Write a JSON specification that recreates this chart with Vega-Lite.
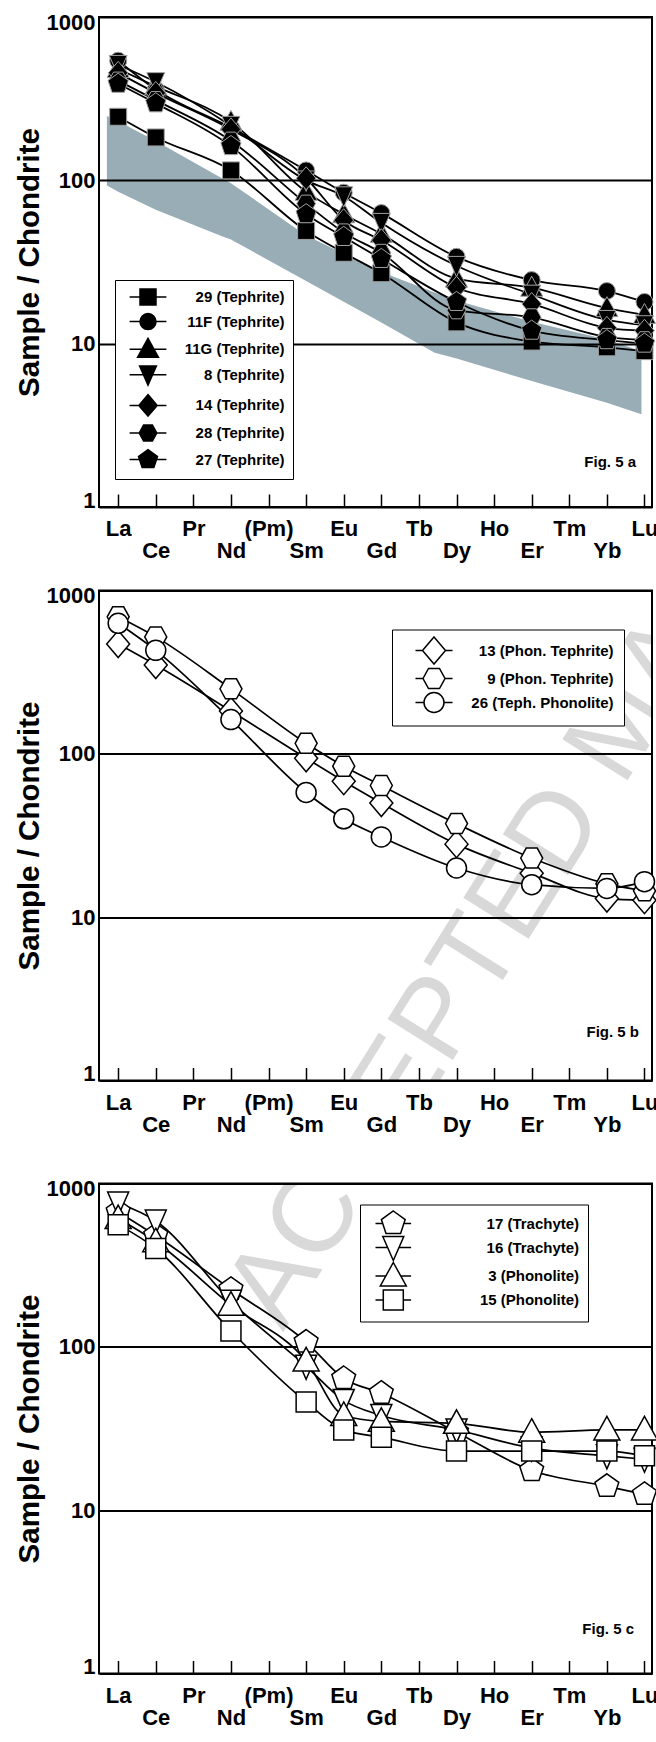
{
  "$schema": "https://vega.github.io/schema/vega-lite/v6.json",
  "background": "white",
  "padding": {"left": 13, "top": 10, "right": 0, "bottom": 0},
  "config": {
    "font": "Liberation Sans",
    "view": {"stroke": "black", "strokeWidth": 2},
    "axis": {"labelFont": "Liberation Sans", "labelFontWeight": "bold", "labelColor": "black", "titleFont": "Liberation Sans", "titleFontWeight": "bold", "titleColor": "black"},
    "legend": {"labelFont": "Liberation Sans", "labelFontWeight": "bold", "labelColor": "black", "labelFontSize": 15, "labelLimit": 400},
    "title": {"font": "Liberation Sans", "fontSize": 15, "fontWeight": "bold", "color": "black", "orient": "bottom", "anchor": "end", "frame": "group"}
  },
  "datasets": {
    "band": [
      {"idx": -0.3, "lo": 93, "v": 248}, {"idx": 0, "lo": 85, "v": 230}, {"idx": 1, "lo": 66, "v": 174},
      {"idx": 2.76, "lo": 45.5, "v": 103}, {"idx": 3, "lo": 43.4, "v": 96}, {"idx": 5, "lo": 24.2, "v": 46},
      {"idx": 7, "lo": 13.5, "v": 27.5}, {"idx": 8.42, "lo": 8.8, "v": 20.6}, {"idx": 9, "lo": 8.1, "v": 18.4},
      {"idx": 11, "lo": 5.9, "v": 13.6}, {"idx": 13, "lo": 4.35, "v": 10.6}, {"idx": 13.92, "lo": 3.7, "v": 9}
    ],
    "a": [
      {"s": "29 (Tephrite)", "el": "La", "idx": 0, "v": 245}, {"s": "29 (Tephrite)", "el": "Ce", "idx": 1, "v": 183}, {"s": "29 (Tephrite)", "el": "Nd", "idx": 3, "v": 115}, {"s": "29 (Tephrite)", "el": "Sm", "idx": 5, "v": 49}, {"s": "29 (Tephrite)", "el": "Eu", "idx": 6, "v": 36}, {"s": "29 (Tephrite)", "el": "Gd", "idx": 7, "v": 27}, {"s": "29 (Tephrite)", "el": "Dy", "idx": 9, "v": 13.5}, {"s": "29 (Tephrite)", "el": "Er", "idx": 11, "v": 10.3}, {"s": "29 (Tephrite)", "el": "Yb", "idx": 13, "v": 9.5}, {"s": "29 (Tephrite)", "el": "Lu", "idx": 14, "v": 9},
      {"s": "11F (Tephrite)", "el": "La", "idx": 0, "v": 540}, {"s": "11F (Tephrite)", "el": "Ce", "idx": 1, "v": 360}, {"s": "11F (Tephrite)", "el": "Nd", "idx": 3, "v": 210}, {"s": "11F (Tephrite)", "el": "Sm", "idx": 5, "v": 115}, {"s": "11F (Tephrite)", "el": "Eu", "idx": 6, "v": 84}, {"s": "11F (Tephrite)", "el": "Gd", "idx": 7, "v": 63}, {"s": "11F (Tephrite)", "el": "Dy", "idx": 9, "v": 34}, {"s": "11F (Tephrite)", "el": "Er", "idx": 11, "v": 24.5}, {"s": "11F (Tephrite)", "el": "Yb", "idx": 13, "v": 21}, {"s": "11F (Tephrite)", "el": "Lu", "idx": 14, "v": 18},
      {"s": "11G (Tephrite)", "el": "La", "idx": 0, "v": 480}, {"s": "11G (Tephrite)", "el": "Ce", "idx": 1, "v": 376}, {"s": "11G (Tephrite)", "el": "Nd", "idx": 3, "v": 228}, {"s": "11G (Tephrite)", "el": "Sm", "idx": 5, "v": 85}, {"s": "11G (Tephrite)", "el": "Eu", "idx": 6, "v": 62}, {"s": "11G (Tephrite)", "el": "Gd", "idx": 7, "v": 47}, {"s": "11G (Tephrite)", "el": "Dy", "idx": 9, "v": 25}, {"s": "11G (Tephrite)", "el": "Er", "idx": 11, "v": 22}, {"s": "11G (Tephrite)", "el": "Yb", "idx": 13, "v": 16.5}, {"s": "11G (Tephrite)", "el": "Lu", "idx": 14, "v": 15},
      {"s": "8 (Tephrite)", "el": "La", "idx": 0, "v": 510}, {"s": "8 (Tephrite)", "el": "Ce", "idx": 1, "v": 400}, {"s": "8 (Tephrite)", "el": "Nd", "idx": 3, "v": 216}, {"s": "8 (Tephrite)", "el": "Sm", "idx": 5, "v": 100}, {"s": "8 (Tephrite)", "el": "Eu", "idx": 6, "v": 80}, {"s": "8 (Tephrite)", "el": "Gd", "idx": 7, "v": 55}, {"s": "8 (Tephrite)", "el": "Dy", "idx": 9, "v": 30}, {"s": "8 (Tephrite)", "el": "Er", "idx": 11, "v": 20}, {"s": "8 (Tephrite)", "el": "Yb", "idx": 13, "v": 14}, {"s": "8 (Tephrite)", "el": "Lu", "idx": 14, "v": 13},
      {"s": "14 (Tephrite)", "el": "La", "idx": 0, "v": 455}, {"s": "14 (Tephrite)", "el": "Ce", "idx": 1, "v": 343}, {"s": "14 (Tephrite)", "el": "Nd", "idx": 3, "v": 205}, {"s": "14 (Tephrite)", "el": "Sm", "idx": 5, "v": 103}, {"s": "14 (Tephrite)", "el": "Eu", "idx": 6, "v": 57}, {"s": "14 (Tephrite)", "el": "Gd", "idx": 7, "v": 43}, {"s": "14 (Tephrite)", "el": "Dy", "idx": 9, "v": 22}, {"s": "14 (Tephrite)", "el": "Er", "idx": 11, "v": 17.5}, {"s": "14 (Tephrite)", "el": "Yb", "idx": 13, "v": 12.5}, {"s": "14 (Tephrite)", "el": "Lu", "idx": 14, "v": 12},
      {"s": "28 (Tephrite)", "el": "La", "idx": 0, "v": 408}, {"s": "28 (Tephrite)", "el": "Ce", "idx": 1, "v": 310}, {"s": "28 (Tephrite)", "el": "Nd", "idx": 3, "v": 175}, {"s": "28 (Tephrite)", "el": "Sm", "idx": 5, "v": 72}, {"s": "28 (Tephrite)", "el": "Eu", "idx": 6, "v": 48}, {"s": "28 (Tephrite)", "el": "Gd", "idx": 7, "v": 36}, {"s": "28 (Tephrite)", "el": "Dy", "idx": 9, "v": 16}, {"s": "28 (Tephrite)", "el": "Er", "idx": 11, "v": 14.5}, {"s": "28 (Tephrite)", "el": "Yb", "idx": 13, "v": 11}, {"s": "28 (Tephrite)", "el": "Lu", "idx": 14, "v": 10.5},
      {"s": "27 (Tephrite)", "el": "La", "idx": 0, "v": 390}, {"s": "27 (Tephrite)", "el": "Ce", "idx": 1, "v": 296}, {"s": "27 (Tephrite)", "el": "Nd", "idx": 3, "v": 162}, {"s": "27 (Tephrite)", "el": "Sm", "idx": 5, "v": 62}, {"s": "27 (Tephrite)", "el": "Eu", "idx": 6, "v": 45}, {"s": "27 (Tephrite)", "el": "Gd", "idx": 7, "v": 33}, {"s": "27 (Tephrite)", "el": "Dy", "idx": 9, "v": 18}, {"s": "27 (Tephrite)", "el": "Er", "idx": 11, "v": 12}, {"s": "27 (Tephrite)", "el": "Yb", "idx": 13, "v": 10.5}, {"s": "27 (Tephrite)", "el": "Lu", "idx": 14, "v": 10}
    ],
    "b": [
      {"s": "13 (Phon. Tephrite)", "el": "La", "idx": 0, "v": 470}, {"s": "13 (Phon. Tephrite)", "el": "Ce", "idx": 1, "v": 350}, {"s": "13 (Phon. Tephrite)", "el": "Nd", "idx": 3, "v": 183}, {"s": "13 (Phon. Tephrite)", "el": "Sm", "idx": 5, "v": 94}, {"s": "13 (Phon. Tephrite)", "el": "Eu", "idx": 6, "v": 68}, {"s": "13 (Phon. Tephrite)", "el": "Gd", "idx": 7, "v": 50}, {"s": "13 (Phon. Tephrite)", "el": "Dy", "idx": 9, "v": 28}, {"s": "13 (Phon. Tephrite)", "el": "Er", "idx": 11, "v": 18.6}, {"s": "13 (Phon. Tephrite)", "el": "Yb", "idx": 13, "v": 13}, {"s": "13 (Phon. Tephrite)", "el": "Lu", "idx": 14, "v": 12.7},
      {"s": "9 (Phon. Tephrite)", "el": "La", "idx": 0, "v": 690}, {"s": "9 (Phon. Tephrite)", "el": "Ce", "idx": 1, "v": 520}, {"s": "9 (Phon. Tephrite)", "el": "Nd", "idx": 3, "v": 250}, {"s": "9 (Phon. Tephrite)", "el": "Sm", "idx": 5, "v": 116}, {"s": "9 (Phon. Tephrite)", "el": "Eu", "idx": 6, "v": 84}, {"s": "9 (Phon. Tephrite)", "el": "Gd", "idx": 7, "v": 64}, {"s": "9 (Phon. Tephrite)", "el": "Dy", "idx": 9, "v": 37.4}, {"s": "9 (Phon. Tephrite)", "el": "Er", "idx": 11, "v": 23}, {"s": "9 (Phon. Tephrite)", "el": "Yb", "idx": 13, "v": 16}, {"s": "9 (Phon. Tephrite)", "el": "Lu", "idx": 14, "v": 14.5},
      {"s": "26 (Teph. Phonolite)", "el": "La", "idx": 0, "v": 630}, {"s": "26 (Teph. Phonolite)", "el": "Ce", "idx": 1, "v": 430}, {"s": "26 (Teph. Phonolite)", "el": "Nd", "idx": 3, "v": 162}, {"s": "26 (Teph. Phonolite)", "el": "Sm", "idx": 5, "v": 58}, {"s": "26 (Teph. Phonolite)", "el": "Eu", "idx": 6, "v": 40}, {"s": "26 (Teph. Phonolite)", "el": "Gd", "idx": 7, "v": 31}, {"s": "26 (Teph. Phonolite)", "el": "Dy", "idx": 9, "v": 20}, {"s": "26 (Teph. Phonolite)", "el": "Er", "idx": 11, "v": 15.8}, {"s": "26 (Teph. Phonolite)", "el": "Yb", "idx": 13, "v": 15}, {"s": "26 (Teph. Phonolite)", "el": "Lu", "idx": 14, "v": 16.5}
    ],
    "c": [
      {"s": "17 (Trachyte)", "el": "La", "idx": 0, "v": 670}, {"s": "17 (Trachyte)", "el": "Ce", "idx": 1, "v": 480}, {"s": "17 (Trachyte)", "el": "Nd", "idx": 3, "v": 225}, {"s": "17 (Trachyte)", "el": "Sm", "idx": 5, "v": 107}, {"s": "17 (Trachyte)", "el": "Eu", "idx": 6, "v": 64}, {"s": "17 (Trachyte)", "el": "Gd", "idx": 7, "v": 52}, {"s": "17 (Trachyte)", "el": "Dy", "idx": 9, "v": 30}, {"s": "17 (Trachyte)", "el": "Er", "idx": 11, "v": 17.5}, {"s": "17 (Trachyte)", "el": "Yb", "idx": 13, "v": 14}, {"s": "17 (Trachyte)", "el": "Lu", "idx": 14, "v": 12.5},
      {"s": "16 (Trachyte)", "el": "La", "idx": 0, "v": 760}, {"s": "16 (Trachyte)", "el": "Ce", "idx": 1, "v": 590}, {"s": "16 (Trachyte)", "el": "Nd", "idx": 3, "v": 190}, {"s": "16 (Trachyte)", "el": "Sm", "idx": 5, "v": 76}, {"s": "16 (Trachyte)", "el": "Eu", "idx": 6, "v": 47}, {"s": "16 (Trachyte)", "el": "Gd", "idx": 7, "v": 38}, {"s": "16 (Trachyte)", "el": "Dy", "idx": 9, "v": 31}, {"s": "16 (Trachyte)", "el": "Er", "idx": 11, "v": 24}, {"s": "16 (Trachyte)", "el": "Yb", "idx": 13, "v": 21.5}, {"s": "16 (Trachyte)", "el": "Lu", "idx": 14, "v": 20.5},
      {"s": "3 (Phonolite)", "el": "La", "idx": 0, "v": 610}, {"s": "3 (Phonolite)", "el": "Ce", "idx": 1, "v": 440}, {"s": "3 (Phonolite)", "el": "Nd", "idx": 3, "v": 180}, {"s": "3 (Phonolite)", "el": "Sm", "idx": 5, "v": 82}, {"s": "3 (Phonolite)", "el": "Eu", "idx": 6, "v": 38}, {"s": "3 (Phonolite)", "el": "Gd", "idx": 7, "v": 35}, {"s": "3 (Phonolite)", "el": "Dy", "idx": 9, "v": 34}, {"s": "3 (Phonolite)", "el": "Er", "idx": 11, "v": 30}, {"s": "3 (Phonolite)", "el": "Yb", "idx": 13, "v": 31}, {"s": "3 (Phonolite)", "el": "Lu", "idx": 14, "v": 31},
      {"s": "15 (Phonolite)", "el": "La", "idx": 0, "v": 560}, {"s": "15 (Phonolite)", "el": "Ce", "idx": 1, "v": 400}, {"s": "15 (Phonolite)", "el": "Nd", "idx": 3, "v": 125}, {"s": "15 (Phonolite)", "el": "Sm", "idx": 5, "v": 46}, {"s": "15 (Phonolite)", "el": "Eu", "idx": 6, "v": 31}, {"s": "15 (Phonolite)", "el": "Gd", "idx": 7, "v": 28}, {"s": "15 (Phonolite)", "el": "Dy", "idx": 9, "v": 23}, {"s": "15 (Phonolite)", "el": "Er", "idx": 11, "v": 23}, {"s": "15 (Phonolite)", "el": "Yb", "idx": 13, "v": 23}, {"s": "15 (Phonolite)", "el": "Lu", "idx": 14, "v": 21.5}
    ]
  },
  "resolve": {"scale": {"shape": "independent", "x": "independent", "y": "independent"}, "legend": {"shape": "independent"}},
  "spacing": 40.5,
  "vconcat": [
    {
      "resolve": {"scale": {"shape": "independent", "x": "independent", "y": "independent"}, "legend": {"shape": "independent"}},
      "spacing": 20.5,
      "vconcat": [
        {
          "width": 553, "height": 490,
          "title": {"text": "Fig. 5 a", "offset": -107, "dx": -16},
          "resolve": {"scale": {"shape": "independent"}, "legend": {"shape": "independent"}},
          "encoding": {
            "x": {"field": "idx", "type": "quantitative", "scale": {"domain": [-0.51, 14.2], "nice": false, "zero": false}, "axis": {"values": [0,1,2,3,4,5,6,7,8,9,10,11,12,13,14], "title": null, "grid": false, "domain": false, "ticks": true, "tickSize": -13, "tickWidth": 1.5, "tickColor": "black", "labelFontSize": 22, "labelPadding": 24.5, "labelBaseline": "top", "labelLineHeight": 22, "labelFlush": false, "labelOverlap": false, "labelBound": false, "labelExpr": "(datum.value % 2 === 0) ? [['La','Ce','Pr','Nd','(Pm)','Sm','Eu','Gd','Tb','Dy','Ho','Er','Tm','Yb','Lu'][datum.value]] : [' ', ['La','Ce','Pr','Nd','(Pm)','Sm','Eu','Gd','Tb','Dy','Ho','Er','Tm','Yb','Lu'][datum.value]]"}},
            "y": {"field": "v", "type": "quantitative", "scale": {"type": "log", "domain": [1, 1000], "nice": false}, "axis": {"values": [1, 10, 100, 1000], "format": "d", "title": "Sample / Chondrite", "ticks": false, "grid": true, "gridColor": "black", "gridWidth": 2, "gridOpacity": 1, "zindex": 1, "domain": false, "labelFontSize": 22, "labelPadding": 4, "labelFlush": true, "labelFlushOffset": 5, "titleFontSize": 29.5, "titlePadding": 2}}
          },
          "layer": [
            {"data": {"name": "band"}, "mark": {"type": "area", "color": "#98adb5", "opacity": 1}, "encoding": {"y2": {"field": "lo"}}},
            {"data": {"name": "a"}, "mark": {"type": "line", "color": "black", "strokeWidth": 1.8, "interpolate": "monotone"}, "encoding": {"detail": {"field": "s"}}},
            {"data": {"name": "a"}, "mark": {"type": "point", "filled": true, "fill": "black", "stroke": "#a0a0a0", "strokeWidth": 1, "size": 289, "opacity": 1},
             "encoding": {"shape": {"field": "s", "type": "nominal", "sort": null, "legend": null,
                                    "scale": {"domain": ["29 (Tephrite)", "11F (Tephrite)", "11G (Tephrite)", "8 (Tephrite)", "14 (Tephrite)", "28 (Tephrite)", "27 (Tephrite)"],
                                              "range": ["M-1,-1H1V1H-1Z", "circle", "M0,-1.35L1.3,1L-1.3,1Z", "M0,1.3L1.05,-1.1L-1.05,-1.1Z", "M0,-1.35L1.15,0L0,1.35L-1.15,0Z", "M-1.1,0L-0.55,-1L0.55,-1L1.1,0L0.55,1L-0.55,1Z", "M0,-1.25L1.19,-0.39L0.73,1L-0.73,1L-1.19,-0.39Z"]}}}},
            {"data": {"name": "a"}, "mark": {"type": "point", "filled": true, "fill": "black", "stroke": "black", "strokeWidth": 1.5, "size": 0, "opacity": 1},
             "encoding": {"shape": {"field": "s", "type": "nominal", "sort": null,
                                    "scale": {"domain": ["29 (Tephrite)", "11F (Tephrite)", "11G (Tephrite)", "8 (Tephrite)", "14 (Tephrite)", "28 (Tephrite)", "27 (Tephrite)"],
                                              "range": ["M-1,-1H1V1H-1ZM-2.3,0H-1M1,0H2.3", "M-1,0A1,1,0,1,0,1,0A1,1,0,1,0,-1,0ZM-2.3,0H-1M1,0H2.3", "M0,-1.35L1.3,1L-1.3,1ZM-2.3,0H-0.75M0.75,0H2.3", "M0,1.3L1.05,-1.1L-1.05,-1.1ZM-2.3,0H-0.57M0.57,0H2.3", "M0,-1.35L1.15,0L0,1.35L-1.15,0ZM-2.3,0H-1.15M1.15,0H2.3", "M-1.1,0L-0.55,-1L0.55,-1L1.1,0L0.55,1L-0.55,1ZM-2.3,0H-1.1M1.1,0H2.3", "M0,-1.25L1.19,-0.39L0.73,1L-0.73,1L-1.19,-0.39ZM-2.3,0H-1.06M1.06,0H2.3"]},
                                    "legend": {"orient": "none", "legendX": 16, "legendY": 263, "zindex": 2, "title": null, "padding": 8, "strokeColor": "black", "fillColor": "white", "symbolSize": 256, "symbolStrokeWidth": 1.5, "symbolOffset": 16, "rowPadding": 2.6, "labelAlign": "right", "labelOffset": 127.5}}}}
          ]
        },
        {
          "width": 553, "height": 490,
          "title": {"text": "Fig. 5 b", "offset": -110, "dx": -13},
          "resolve": {"scale": {"shape": "independent"}, "legend": {"shape": "independent"}},
          "layer": [
            {"data": {"values": [{"t": "ACCEPTED MANUSCRIPT"}]},
             "mark": {"type": "text", "align": "left", "baseline": "alphabetic", "angle": -58, "fontSize": 112, "font": "Liberation Sans", "fontWeight": "normal", "color": "black", "opacity": 0.15, "clip": true},
             "encoding": {
               "x": {"datum": 4.385, "type": "quantitative", "scale": {"domain": [-0.51, 14.2], "nice": false, "zero": false}, "axis": {"values": [0,1,2,3,4,5,6,7,8,9,10,11,12,13,14], "title": null, "grid": false, "domain": false, "ticks": true, "tickSize": -13, "tickWidth": 1.5, "tickColor": "black", "labelFontSize": 22, "labelPadding": 24.5, "labelBaseline": "top", "labelLineHeight": 22, "labelFlush": false, "labelOverlap": false, "labelBound": false, "labelExpr": "(datum.value % 2 === 0) ? [['La','Ce','Pr','Nd','(Pm)','Sm','Eu','Gd','Tb','Dy','Ho','Er','Tm','Yb','Lu'][datum.value]] : [' ', ['La','Ce','Pr','Nd','(Pm)','Sm','Eu','Gd','Tb','Dy','Ho','Er','Tm','Yb','Lu'][datum.value]]"}},
               "y": {"datum": 0.029, "type": "quantitative", "scale": {"type": "log", "domain": [1, 1000], "nice": false}, "axis": {"values": [1, 10, 100, 1000], "format": "d", "title": "Sample / Chondrite", "ticks": false, "grid": true, "gridColor": "black", "gridWidth": 2, "gridOpacity": 1, "domain": false, "labelFontSize": 22, "labelPadding": 4, "labelFlush": true, "labelFlushOffset": 5, "titleFontSize": 29.5, "titlePadding": 2}},
               "text": {"field": "t", "type": "nominal"}}},
            {
              "resolve": {"scale": {"shape": "independent"}, "legend": {"shape": "independent"}},
              "encoding": {
                "x": {"field": "idx", "type": "quantitative", "scale": {"domain": [-0.51, 14.2], "nice": false, "zero": false}, "axis": {"values": [0,1,2,3,4,5,6,7,8,9,10,11,12,13,14], "title": null, "grid": false, "domain": false, "ticks": true, "tickSize": -13, "tickWidth": 1.5, "tickColor": "black", "labelFontSize": 22, "labelPadding": 24.5, "labelBaseline": "top", "labelLineHeight": 22, "labelFlush": false, "labelOverlap": false, "labelBound": false, "labelExpr": "(datum.value % 2 === 0) ? [['La','Ce','Pr','Nd','(Pm)','Sm','Eu','Gd','Tb','Dy','Ho','Er','Tm','Yb','Lu'][datum.value]] : [' ', ['La','Ce','Pr','Nd','(Pm)','Sm','Eu','Gd','Tb','Dy','Ho','Er','Tm','Yb','Lu'][datum.value]]"}},
                "y": {"field": "v", "type": "quantitative", "scale": {"type": "log", "domain": [1, 1000], "nice": false}, "axis": {"values": [1, 10, 100, 1000], "format": "d", "title": "Sample / Chondrite", "ticks": false, "grid": true, "gridColor": "black", "gridWidth": 2, "gridOpacity": 1, "domain": false, "labelFontSize": 22, "labelPadding": 4, "labelFlush": true, "labelFlushOffset": 5, "titleFontSize": 29.5, "titlePadding": 2}}
              },
              "layer": [
                {"data": {"name": "b"}, "mark": {"type": "line", "color": "black", "strokeWidth": 1.7, "interpolate": "monotone"}, "encoding": {"detail": {"field": "s"}}},
                {"data": {"name": "b"}, "mark": {"type": "point", "filled": true, "fill": "white", "stroke": "black", "strokeWidth": 1.5, "size": 400, "opacity": 1},
                 "encoding": {"shape": {"field": "s", "type": "nominal", "sort": null, "legend": null,
                                        "scale": {"domain": ["13 (Phon. Tephrite)", "9 (Phon. Tephrite)", "26 (Teph. Phonolite)"],
                                                  "range": ["M0,-1.35L1.15,0L0,1.35L-1.15,0Z", "M-1.1,0L-0.55,-1L0.55,-1L1.1,0L0.55,1L-0.55,1Z", "circle"]}}}},
                {"data": {"name": "b"}, "mark": {"type": "point", "filled": true, "fill": "white", "stroke": "black", "strokeWidth": 1.5, "size": 0, "opacity": 1},
                 "encoding": {"shape": {"field": "s", "type": "nominal", "sort": null,
                                        "scale": {"domain": ["13 (Phon. Tephrite)", "9 (Phon. Tephrite)", "26 (Teph. Phonolite)"],
                                                  "range": ["M0,-1.35L1.15,0L0,1.35L-1.15,0ZM-1.85,0H-1.15M1.15,0H1.85", "M-1.1,0L-0.55,-1L0.55,-1L1.1,0L0.55,1L-0.55,1ZM-1.85,0H-1.1M1.1,0H1.85", "M-1,0A1,1,0,1,0,1,0A1,1,0,1,0,-1,0ZM-1.85,0H-1M1,0H1.85"]},
                                        "legend": {"orient": "none", "legendX": 293, "legendY": 39, "title": null, "padding": 10, "strokeColor": "black", "fillColor": "white", "symbolSize": 400, "symbolStrokeWidth": 1.5, "symbolOffset": 21, "rowPadding": -2.5, "labelAlign": "right", "labelOffset": 168.6}}}}
              ]
            }
          ]
        }
      ]
    },
    {
      "width": 553, "height": 490,
      "title": {"text": "Fig. 5 c", "offset": -106, "dx": -18},
      "resolve": {"scale": {"shape": "independent"}, "legend": {"shape": "independent"}},
      "layer": [
        {"data": {"values": [{"t": "ACCEPTED MANUSCRIPT"}]},
         "mark": {"type": "text", "align": "left", "baseline": "alphabetic", "angle": -58, "fontSize": 112, "font": "Liberation Sans", "fontWeight": "normal", "color": "black", "opacity": 0.15, "clip": true},
         "encoding": {
           "x": {"datum": 4.385, "type": "quantitative", "scale": {"domain": [-0.51, 14.2], "nice": false, "zero": false}, "axis": {"values": [0,1,2,3,4,5,6,7,8,9,10,11,12,13,14], "title": null, "grid": false, "domain": false, "ticks": true, "tickSize": -13, "tickWidth": 1.5, "tickColor": "black", "labelFontSize": 22, "labelPadding": 24.5, "labelBaseline": "top", "labelLineHeight": 22, "labelFlush": false, "labelOverlap": false, "labelBound": false, "labelExpr": "(datum.value % 2 === 0) ? [['La','Ce','Pr','Nd','(Pm)','Sm','Eu','Gd','Tb','Dy','Ho','Er','Tm','Yb','Lu'][datum.value]] : [' ', ['La','Ce','Pr','Nd','(Pm)','Sm','Eu','Gd','Tb','Dy','Ho','Er','Tm','Yb','Lu'][datum.value]]"}},
           "y": {"datum": 122.4, "type": "quantitative", "scale": {"type": "log", "domain": [1, 1000], "nice": false}, "axis": {"values": [1, 10, 100, 1000], "format": "d", "title": "Sample / Chondrite", "ticks": false, "grid": true, "gridColor": "black", "gridWidth": 2, "gridOpacity": 1, "domain": false, "labelFontSize": 22, "labelPadding": 4, "labelFlush": true, "labelFlushOffset": 5, "titleFontSize": 29.5, "titlePadding": 2}},
           "text": {"field": "t", "type": "nominal"}}},
        {
          "resolve": {"scale": {"shape": "independent"}, "legend": {"shape": "independent"}},
          "encoding": {
            "x": {"field": "idx", "type": "quantitative", "scale": {"domain": [-0.51, 14.2], "nice": false, "zero": false}, "axis": {"values": [0,1,2,3,4,5,6,7,8,9,10,11,12,13,14], "title": null, "grid": false, "domain": false, "ticks": true, "tickSize": -13, "tickWidth": 1.5, "tickColor": "black", "labelFontSize": 22, "labelPadding": 24.5, "labelBaseline": "top", "labelLineHeight": 22, "labelFlush": false, "labelOverlap": false, "labelBound": false, "labelExpr": "(datum.value % 2 === 0) ? [['La','Ce','Pr','Nd','(Pm)','Sm','Eu','Gd','Tb','Dy','Ho','Er','Tm','Yb','Lu'][datum.value]] : [' ', ['La','Ce','Pr','Nd','(Pm)','Sm','Eu','Gd','Tb','Dy','Ho','Er','Tm','Yb','Lu'][datum.value]]"}},
            "y": {"field": "v", "type": "quantitative", "scale": {"type": "log", "domain": [1, 1000], "nice": false}, "axis": {"values": [1, 10, 100, 1000], "format": "d", "title": "Sample / Chondrite", "ticks": false, "grid": true, "gridColor": "black", "gridWidth": 2, "gridOpacity": 1, "domain": false, "labelFontSize": 22, "labelPadding": 4, "labelFlush": true, "labelFlushOffset": 5, "titleFontSize": 29.5, "titlePadding": 2}}
          },
          "layer": [
            {"data": {"name": "c"}, "mark": {"type": "line", "color": "black", "strokeWidth": 1.7, "interpolate": "monotone"}, "encoding": {"detail": {"field": "s"}}},
            {"data": {"name": "c"}, "mark": {"type": "point", "filled": true, "fill": "white", "stroke": "black", "strokeWidth": 1.5, "size": 400, "opacity": 1},
             "encoding": {"shape": {"field": "s", "type": "nominal", "sort": null, "legend": null,
                                    "scale": {"domain": ["17 (Trachyte)", "16 (Trachyte)", "3 (Phonolite)", "15 (Phonolite)"],
                                              "range": ["M0,-1.25L1.19,-0.39L0.73,1L-0.73,1L-1.19,-0.39Z", "M0,1.3L1.05,-1.1L-1.05,-1.1Z", "M0,-1.35L1.3,1L-1.3,1Z", "M-1,-1H1V1H-1Z"]}}}},
            {"data": {"name": "c"}, "mark": {"type": "point", "filled": true, "fill": "white", "stroke": "black", "strokeWidth": 1.5, "size": 0, "opacity": 1},
             "encoding": {"shape": {"field": "s", "type": "nominal", "sort": null,
                                    "scale": {"domain": ["17 (Trachyte)", "16 (Trachyte)", "3 (Phonolite)", "15 (Phonolite)"],
                                              "range": ["M0,-1.25L1.19,-0.39L0.73,1L-0.73,1L-1.19,-0.39ZM-1.78,0H-1.06M1.06,0H1.78", "M0,1.3L1.05,-1.1L-1.05,-1.1ZM-1.78,0H-0.57M0.57,0H1.78", "M0,-1.35L1.3,1L-1.3,1ZM-1.78,0H-0.75M0.75,0H1.78", "M-1,-1H1V1H-1ZM-1.78,0H-1M1,0H1.78"]},
                                    "legend": {"orient": "none", "legendX": 261, "legendY": 21, "title": null, "padding": 8, "strokeColor": "black", "fillColor": "white", "symbolSize": 400, "symbolStrokeWidth": 1.5, "symbolOffset": 14.3, "rowPadding": -4.5, "labelAlign": "right", "labelOffset": 174.8}}}}
          ]
        }
      ]
    }
  ]
}
